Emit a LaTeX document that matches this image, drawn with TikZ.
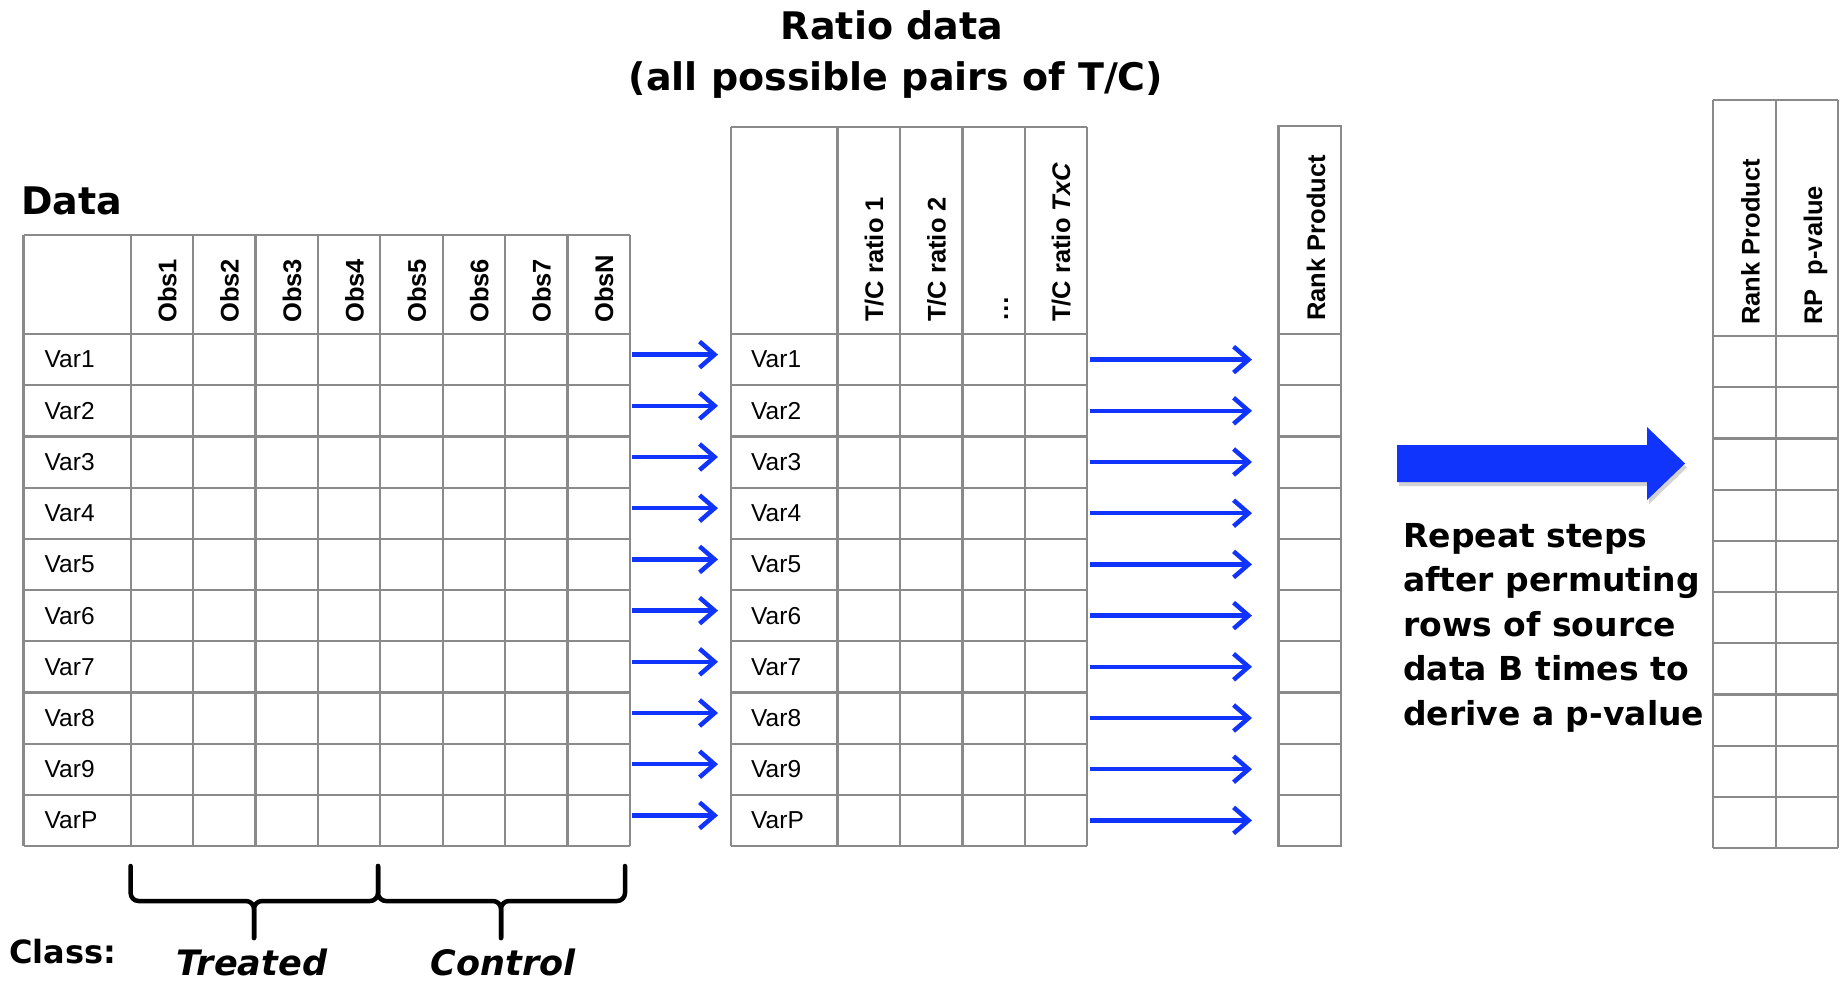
\documentclass[tikz,border=0pt]{standalone}
\usepackage{fontspec}
\setmainfont{Liberation Sans}
\newfontfamily\titlefont{DejaVu Sans}
\usetikzlibrary{arrows.meta,shadows}
\definecolor{gridc}{RGB}{138,138,138}
\definecolor{arrblue}{RGB}{16,52,252}
\begin{document}
\begin{tikzpicture}[x=1pt,y=-1pt,
  grid/.style={draw=gridc,line width=2.2pt},
  cell/.style={font=\fontsize{24.5}{28}\selectfont,inner sep=0pt},
  hdr/.style={font=\bfseries\fontsize{25.5}{30}\selectfont,rotate=90,anchor=base west,inner sep=0pt},
  ttl/.style={font=\titlefont\bfseries\fontsize{38}{46}\selectfont,inner sep=0pt},
  note/.style={font=\titlefont\bfseries\fontsize{33}{40}\selectfont,inner sep=0pt,anchor=base west},
  cls/.style={font=\titlefont\bfseries\itshape\fontsize{35}{40}\selectfont,inner sep=0pt,anchor=base},
  arr/.style={draw=arrblue,line width=4.5pt,-{Straight Barb[length=15pt,width=26pt]}},
  brace/.style={draw=black,line width=4.5pt,line cap=round,line join=round,rounded corners=8pt},
]
\fill[white] (0,0) rectangle (1845,983);
\useasboundingbox (0,0) rectangle (1845,983);

% ---------------- Data table ----------------
\node[ttl,anchor=base west] (datatitle) at (21,214) {Data};
\foreach \x in {23.5,130.6,193,255.4,317.8,380.2,442.6,505,567.4,629.8}
  \draw[grid] (\x,235) -- (\x,846);
\draw[grid] (23.5,235) -- (629.8,235);
\foreach \i in {0,...,10}
  \draw[grid] (23.5,334+51.2*\i) -- (629.8,334+51.2*\i);
\foreach \t [count=\k] in {Obs1,Obs2,Obs3,Obs4,Obs5,Obs6,Obs7,ObsN}
  \node[hdr] (obs\k) at (130.6+62.4*\k-31.2+14.5,323) {\t};
\foreach \t [count=\i] in {Var1,Var2,Var3,Var4,Var5,Var6,Var7,Var8,Var9,VarP}
  \node[cell,anchor=west] (dv\i) at (44.5,334+51.2*\i-25.6) {\t};

% ---------------- Ratio table ----------------
\node[ttl,anchor=base] (rtitle1) at (892,39) {Ratio data};
\node[ttl,anchor=base] (rtitle2) at (896,90) {(all possible pairs of T/C)};
\foreach \x in {731,837.5,900,962.4,1024.6,1086.8}
  \draw[grid] (\x,127) -- (\x,846);
\draw[grid] (731,127) -- (1086.8,127);
\foreach \i in {0,...,10}
  \draw[grid] (731,334+51.2*\i) -- (1086.8,334+51.2*\i);
\node[hdr] (tc1) at (883,322) {T/C ratio 1};
\node[hdr] (tc2) at (945.5,322) {T/C ratio 2};
\node[hdr] (tcdots) at (1008,322) {…};
\node[hdr] (tcn) at (1070,322) {T/C ratio \textit{TxC}};
\foreach \t [count=\i] in {Var1,Var2,Var3,Var4,Var5,Var6,Var7,Var8,Var9,VarP}
  \node[cell,anchor=west] (rv\i) at (751,334+51.2*\i-25.6) {\t};

% ---------------- Rank product column ----------------
\draw[grid] (1278.5,126) rectangle (1341,846);
\foreach \i in {0,...,10}
  \draw[grid] (1278.5,334+51.2*\i) -- (1341,334+51.2*\i);
\node[hdr] (rp) at (1325,321) {Rank Product};

% ---------------- Final table ----------------
\foreach \x in {1713,1775.6,1838}
  \draw[grid] (\x,100) -- (\x,848);
\draw[grid] (1713,100) -- (1838,100);
\foreach \i in {0,...,10}
  \draw[grid] (1713,336+51.2*\i) -- (1838,336+51.2*\i);
\node[hdr] (frp) at (1759.5,325) {Rank Product};
\node[hdr] (fpv) at (1822,325) {RP\ \ p-value};

% ---------------- Arrows ----------------
\foreach \i in {1,...,10}{
  \coordinate (la\i) at (632,334+51.2*\i-30.6);
  \coordinate (lb\i) at (718,334+51.2*\i-30.6);
  \draw[arr] (la\i) -- (lb\i);
  \coordinate (ma\i) at (1090,334+51.2*\i-25.6);
  \coordinate (mb\i) at (1252,334+51.2*\i-25.6);
  \draw[arr] (ma\i) -- (mb\i);
}

% ---------------- Big arrow ----------------
\fill[arrblue,drop shadow={opacity=0.35,shadow xshift=2pt,shadow yshift=-4pt}]
  (1397,445) -- (1647,445) -- (1647,427) -- (1685,463.5) -- (1647,500) -- (1647,482) -- (1397,482) -- cycle;

\node[note] (rep1) at (1403,547) {Repeat steps};
\node[note] (rep2) at (1403,591) {after permuting};
\node[note] (rep3) at (1403,636) {rows of source};
\node[note] (rep4) at (1403,680) {data B times to};
\node[note] (rep5) at (1403,725) {derive a p-value};

% ---------------- Braces and class labels ----------------
\draw[brace] (130.6,866) -- (130.6,901) -- (254,901) -- (254,938);
\draw[brace] (378,866) -- (378,901) -- (254,901) -- (254,938);
\draw[brace] (378,866) -- (378,901) -- (501,901) -- (501,938);
\draw[brace] (625,866) -- (625,901) -- (501,901) -- (501,938);

\node[font=\titlefont\bfseries\fontsize{32}{38}\selectfont,inner sep=0pt,anchor=base west] (classlbl) at (9,963) {Class:};
\node[cls] (treated) at (252,975) {Treated};
\node[cls] (control) at (503,975) {Control};
\end{tikzpicture}
\end{document}
